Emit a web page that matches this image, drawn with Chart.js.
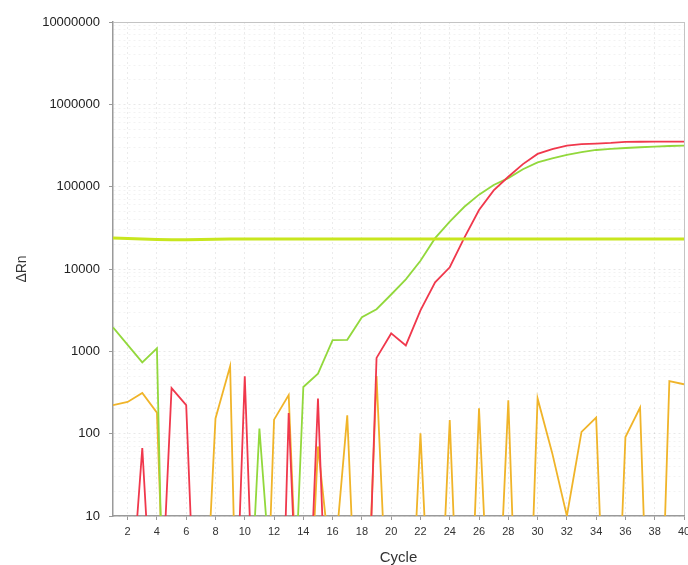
<!DOCTYPE html>
<html>
<head>
<meta charset="utf-8">
<script src="https://cdn.jsdelivr.net/npm/chart.js@4/dist/chart.umd.min.js"></script>
<style>
html,body{margin:0;padding:0;background:#fff;}
#wrap{width:688px;height:565px;position:relative;}
</style>
</head>
<body>
<div id="wrap"><canvas id="c" width="688" height="565"></canvas></div>
<script>
// ---- data ----
const cycles = [1,2,3,4,5,6,7,8,9,10,11,12,13,14,15,16,17,18,19,20,21,22,23,24,25,26,27,28,29,30,31,32,33,34,35,36,37,38,39,40];
const xTickLabels = [2,4,6,8,10,12,14,16,18,20,22,24,26,28,30,32,34,36,38,40];
const yTickLabels = [10,100,1000,10000,100000,1000000,10000000];

// threshold line (ΔRn)
const thresholdRn = [23800,23500,23200,22800,22600,22600,22800,23000,23100,23100,23100,23100,23100,23100,23100,23100,23100,23100,23100,23100,23100,23100,23100,23100,23100,23100,23100,23100,23100,23100,23100,23100,23100,23100,23100,23100,23100,23100,23100,23100];

// red sample (values below 10 fall under the axis)
const sampleRed = [0.01,0.25,67,0.05,357,222,0.007,0.01,0.005,497,0.005,0.0001,178,0.01,267,0.004,0.01,0.0025,832,1650,1180,3140,6900,10500,24000,52000,90000,132000,188000,250000,286000,315000,328000,334000,340000,350000,351000,352000,353000,353000];

// green sample
const sampleGreen = [1950,1200,735,1090,0.00001,0.01,0.01,0.01,0.01,0.035,115,0.5,0.016,369,536,1370,1380,2600,3250,4900,7500,12600,23700,37600,57000,80000,105000,127000,163000,197000,220000,243000,262000,279000,287000,295000,301000,307000,312000,316000];

// orange (NTC-like) trace
const sampleOrange = [222,243,313,180,0.0018,0.01,0.04,153,657,0.00002,0.0012,148,295,0.013,70,1.5,167,0.01,500,0.05,0.02,101,0.02,146,0.005,204,0.03,254,0.002,268,58,10,105,157,0.003,91,208,0.001,435,398];

// ---- build ----
const FONT = "'Liberation Sans', Arial, sans-serif";
const pts = arr => cycles.map((c, i) => ({x: c, y: arr[i]}));

const yGridValues = [];
yTickLabels.forEach((d, i) => {
  yGridValues.push(d);
  if (i < yTickLabels.length - 1) for (let k = 2; k <= 9; k++) yGridValues.push(d * k);
});
const isDecade = v => yTickLabels.includes(v);

new Chart(document.getElementById('c'), {
  type: 'line',
  data: {
    datasets: [
      {label: 'Threshold', data: pts(thresholdRn), borderColor: '#c8e61e', borderWidth: 3},
      {label: 'Red', data: pts(sampleRed), borderColor: '#f0384c', borderWidth: 1.8},
      {label: 'Green', data: pts(sampleGreen), borderColor: '#92d83c', borderWidth: 1.8},
      {label: 'Orange', data: pts(sampleOrange), borderColor: '#f0b429', borderWidth: 1.8}
    ]
  },
  options: {
    responsive: false,
    animation: false,
    devicePixelRatio: 1,
    elements: {point: {radius: 0}, line: {tension: 0}},
    layout: {padding: {top: 22, right: 4, left: 0, bottom: 0}, autoPadding: false},
    plugins: {legend: {display: false}, tooltip: {enabled: false}},
    scales: {
      x: {
        type: 'linear', min: 1, max: 40,
        afterBuildTicks: s => { s.ticks = xTickLabels.map(v => ({value: v})); },
        afterFit: s => { s.height = 49; s.paddingLeft = 0; s.paddingRight = 0; },
        ticks: {font: {family: FONT, size: 11}, color: '#333', padding: 5, maxRotation: 0, autoSkip: false},
        grid: {
          color: c => (c.tick && c.tick.value === 40) ? '#c4c4c4' : 'rgba(0,0,0,0.08)',
          tickLength: 4, tickColor: '#999', lineWidth: 1
        },
        border: {color: '#9a9a9a', width: 1.5, dash: c => (c.tick && c.tick.value === 40) ? [] : [2, 3]},
        title: {display: true, text: 'Cycle', color: '#333', font: {family: FONT, size: 15, lineHeight: 1}, padding: {top: 0, bottom: 0}}
      },
      y: {
        type: 'logarithmic', min: 10, max: 10000000,
        afterBuildTicks: s => { s.ticks = yGridValues.map(v => ({value: v, major: isDecade(v)})); },
        afterFit: s => { s.width = 113; s.paddingTop = 0; s.paddingBottom = 0; },
        ticks: {
          font: {family: FONT, size: 13}, color: '#222', padding: 9, autoSkip: false,
          callback: v => isDecade(v) ? String(v) : ''
        },
        grid: {
          color: c => {
            if (!c.tick) return 'rgba(0,0,0,0.06)';
            if (c.tick.value === 10000000) return '#c4c4c4';
            return isDecade(c.tick.value) ? 'rgba(0,0,0,0.09)' : 'rgba(0,0,0,0.05)';
          },
          tickLength: 4,
          tickColor: c => (c.tick && isDecade(c.tick.value)) ? '#999' : 'rgba(0,0,0,0)',
          lineWidth: 1
        },
        border: {color: '#9a9a9a', width: 1.5, dash: c => (c.tick && c.tick.value === 10000000) ? [] : [2, 3]},
        title: {display: true, text: 'ΔRn', color: '#333', font: {family: FONT, size: 14, lineHeight: 1.2}, padding: {top: 14, bottom: 0}}
      }
    }
  }
});
</script>
</body>
</html>
